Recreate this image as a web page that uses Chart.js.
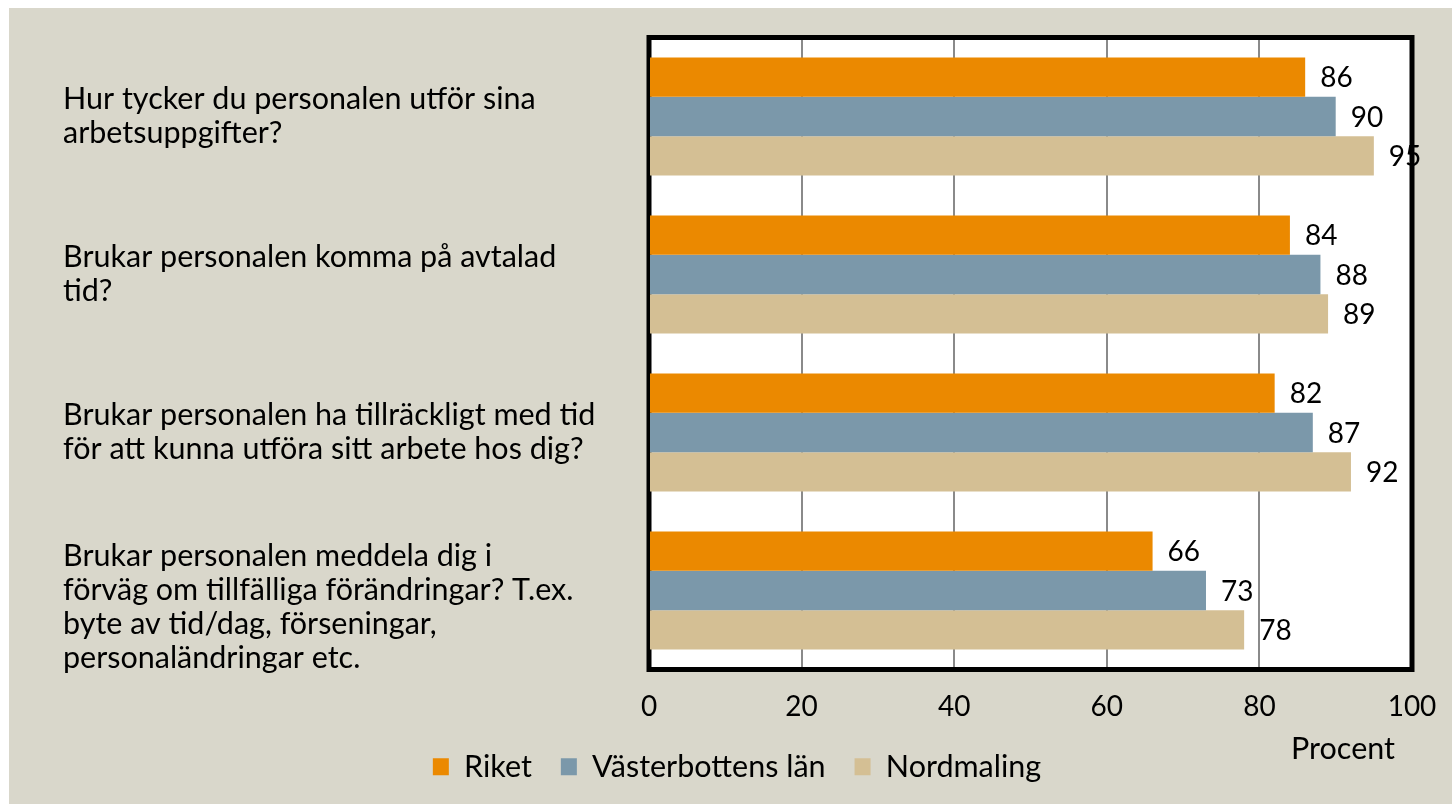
<!DOCTYPE html>
<html>
<head>
<meta charset="utf-8">
<script src="https://cdn.jsdelivr.net/npm/chart.js@4.4.0/dist/chart.umd.min.js"></script>
<style>
  html, body { margin: 0; padding: 0; background: #fff; }
  #wrap { position: absolute; left: 9px; top: 8px; width: 1443px; height: 796px; background: #d9d7cb; }
</style>
</head>
<body>
<div id="wrap"><canvas id="chart" width="1443" height="796"></canvas></div>
<script>
// questions, one line per array entry
const categories = [
  ['Hur tycker du personalen utför sina', 'arbetsuppgifter?'],
  ['Brukar personalen komma på avtalad', 'tid?'],
  ['Brukar personalen ha tillräckligt med tid', 'för att kunna utföra sitt arbete hos dig?'],
  ['Brukar personalen meddela dig i', 'förväg om tillfälliga förändringar? T.ex.', 'byte av tid/dag, förseningar,', 'personaländringar etc.']
];
const seriesNames = ['Riket', 'Västerbottens län', 'Nordmaling'];
const riket = [86, 84, 82, 66];
const vasterbotten = [90, 88, 87, 73];
const nordmaling = [95, 89, 92, 78];
const xTicks = [0, 20, 40, 60, 80, 100];
const colors = ['#eb8900', '#7b98aa', '#d4bf94'];
const axisTitle = 'Procent';

const FONT = 'Lato';
const TEXT = 30.5;   // questions, legend, axis title
const NUM = 28;      // tick numbers and bar values
Chart.defaults.color = '#000';
Chart.defaults.font.family = FONT;

// white plot area + thick black frame
const plotFrame = {
  id: 'plotFrame',
  beforeDraw(chart) {
    const a = chart.chartArea, ctx = chart.ctx;
    ctx.save();
    ctx.fillStyle = '#fff';
    ctx.fillRect(a.left, a.top, a.right - a.left, a.bottom - a.top);
    ctx.restore();
  },
  beforeDatasetsDraw(chart) {
    const a = chart.chartArea, ctx = chart.ctx;
    ctx.save();
    ctx.strokeStyle = '#000';
    ctx.lineWidth = 5;
    ctx.strokeRect(a.left, a.top, a.right - a.left, a.bottom - a.top);
    ctx.restore();
  }
};

// value next to the end of each bar, plus the axis title
const barLabels = {
  id: 'barLabels',
  afterDatasetsDraw(chart) {
    const ctx = chart.ctx;
    ctx.save();
    ctx.font = NUM + 'px ' + FONT;
    ctx.fillStyle = '#000';
    ctx.textAlign = 'left';
    ctx.textBaseline = 'middle';
    chart.data.datasets.forEach((ds, d) => {
      chart.getDatasetMeta(d).data.forEach((bar, i) => {
        ctx.fillText(ds.data[i], bar.x + 15, bar.y + 1);
      });
    });
    const xs = chart.scales.x;
    ctx.font = TEXT + 'px ' + FONT;
    ctx.textAlign = 'right';
    ctx.fillText(axisTitle, xs.right - 17, xs.bottom - 16);
    ctx.restore();
  }
};

// legend sits under the axis, a bit left of centre
const legendPlace = {
  id: 'legendPlace',
  afterLayout(chart) {
    const lg = chart.legend;
    lg.top = chart.chartArea.bottom + 53;
    lg.bottom = chart.height;
    lg.left = 0;
    lg.right = 1456;
  }
};

new Chart(document.getElementById('chart'), {
  type: 'bar',
  data: {
    labels: categories,
    datasets: [
      { label: seriesNames[0], data: riket, backgroundColor: colors[0] },
      { label: seriesNames[1], data: vasterbotten, backgroundColor: colors[1] },
      { label: seriesNames[2], data: nordmaling, backgroundColor: colors[2] }
    ]
  },
  options: {
    indexAxis: 'y',
    responsive: false,
    animation: false,
    categoryPercentage: 0.747,
    barPercentage: 1.0,
    layout: { padding: { left: 54, top: 29.5, right: 40, bottom: 8.5 } },
    scales: {
      x: {
        min: 0,
        max: 100,
        afterBuildTicks: (scale) => { scale.ticks = xTicks.map(v => ({ value: v })); },
        afterFit: (scale) => {
          scale.height = 96;
          scale.paddingLeft = 0;
          scale.paddingRight = 0;
        },
        ticks: { font: { size: NUM }, padding: 21 },
        grid: { color: '#8a8a8a', lineWidth: 2, drawTicks: false },
        border: { display: false }
      },
      y: {
        afterFit: (scale) => {
          scale.width = 586;
          scale.paddingTop = 0;
          scale.paddingBottom = 0;
        },
        grid: { display: false, drawTicks: false },
        border: { display: false },
        ticks: {
          autoSkip: false,
          crossAlign: 'far',
          font: { size: TEXT, lineHeight: 1.115 },
          callback: (v, i) => i === 3 ? [''].concat(categories[i]) : categories[i]
        }
      }
    },
    plugins: {
      legend: {
        position: 'bottom',
        maxHeight: 30,
        labels: { boxWidth: 16, boxHeight: 17, padding: 29, font: { size: TEXT } }
      },
      tooltip: { enabled: false }
    }
  },
  plugins: [plotFrame, barLabels, legendPlace]
});
</script>
</body>
</html>
